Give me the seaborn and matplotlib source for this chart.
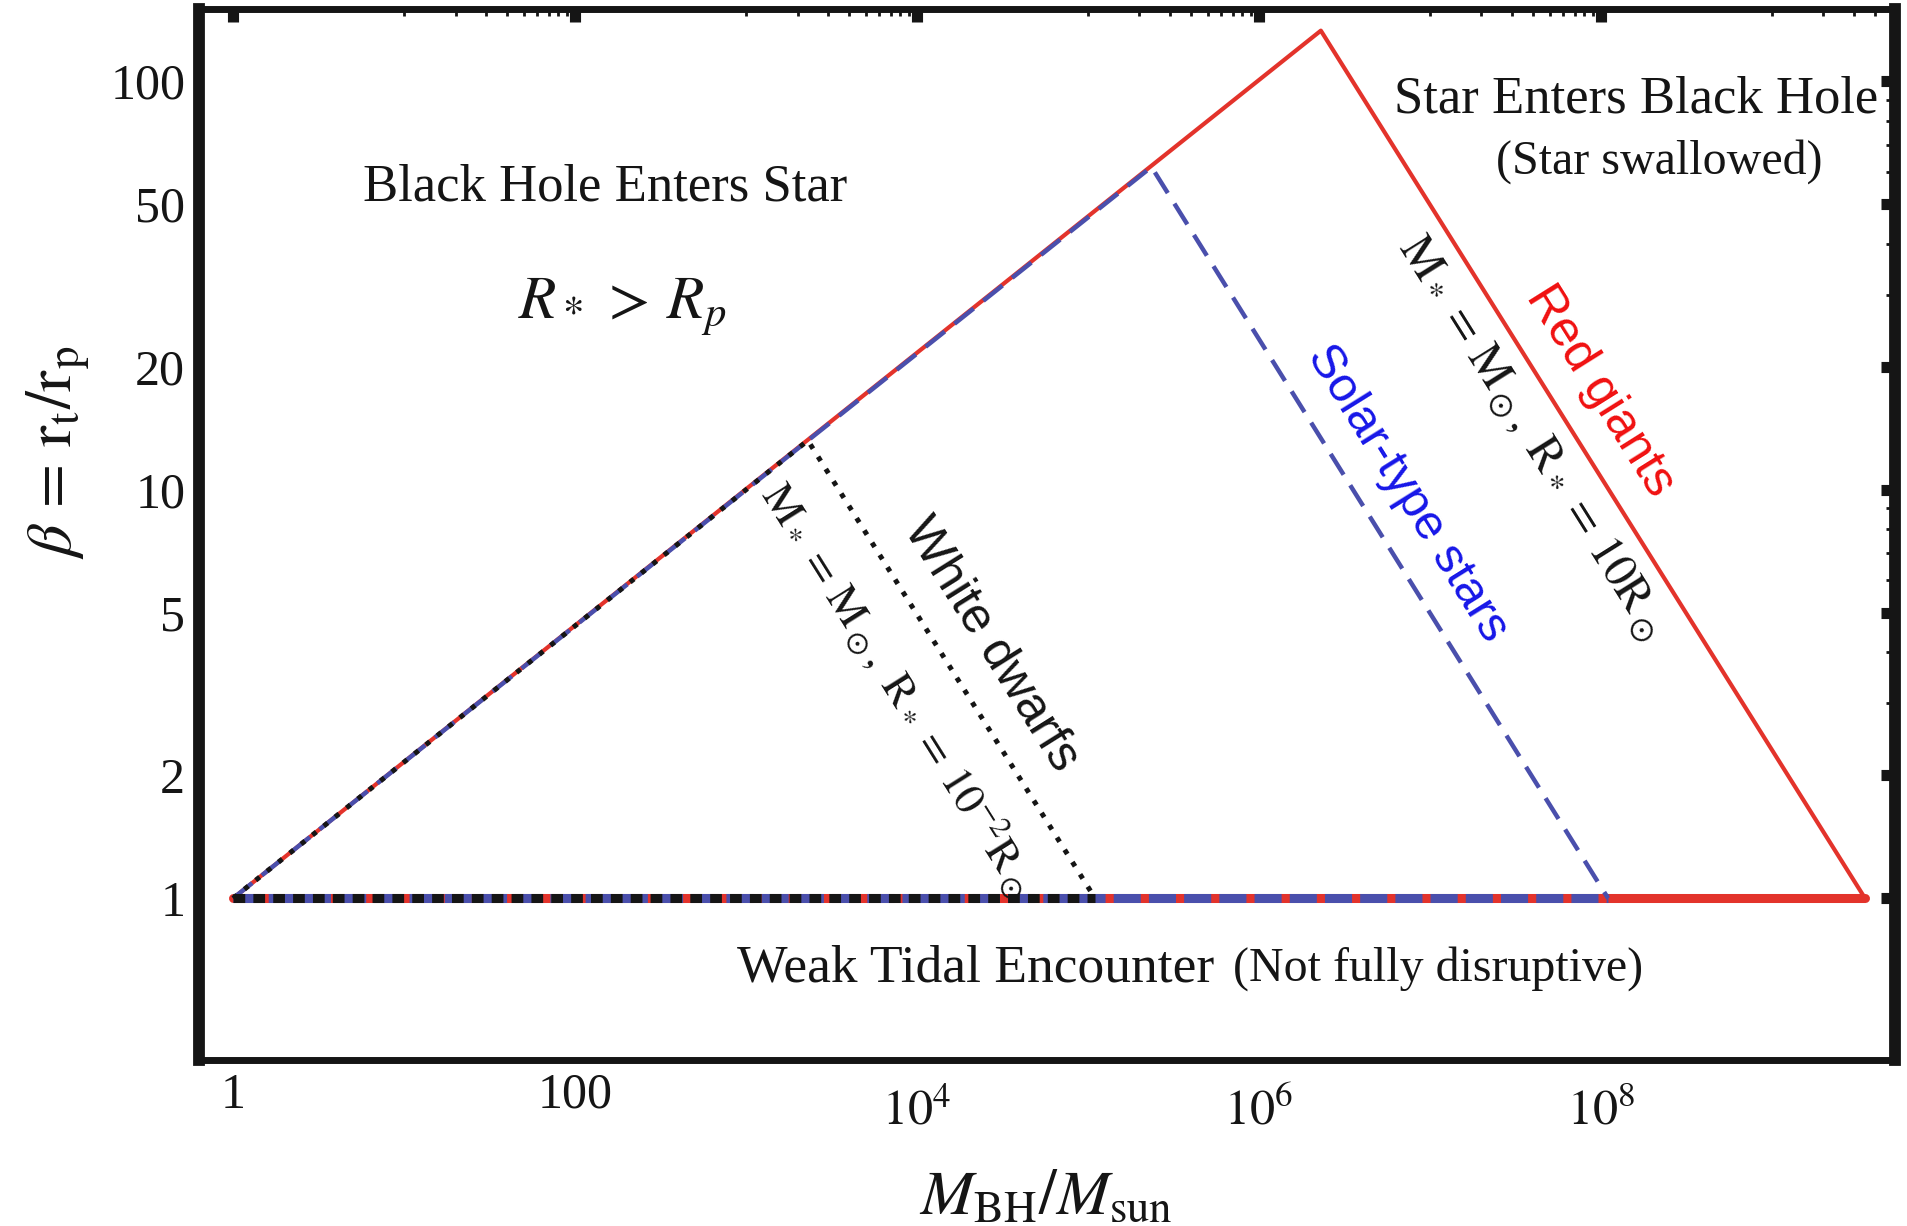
import numpy as np
import pandas as pd
import matplotlib
matplotlib.use("Agg")
import matplotlib.pyplot as plt
from matplotlib.ticker import FixedLocator, NullFormatter
import seaborn as sns

# ---------------------------------------------------------
# Data: corners of the disruption regions (M_BH / M_sun, beta)
# ---------------------------------------------------------
RG_MASS = [1.0, 2.3e6, 3.5e9]      # red giants, M = Msun, R = 10 Rsun
RG_BETA = [1.0, 133.0, 1.0]
SOLAR_MASS = [1.0, 2.35e5, 1.1e8]  # solar-type stars
SOLAR_BETA = [1.0, 61.7, 1.0]
WD_MASS = [1.0, 2.3e3, 1.1e5]      # white dwarfs, R = 1e-2 Rsun
WD_BETA = [1.0, 13.2, 1.0]

X_MAJOR = [1, 1e2, 1e4, 1e6, 1e8]
X_LABELS = ['1', '100', r'$10^{4}$', r'$10^{6}$', r'$10^{8}$']
X_MINOR = [m * 10.0 ** e for e in (1, 3, 5, 7, 9) for m in range(1, 10)]
Y_MAJOR = [1, 2, 5, 10, 20, 50, 100]
Y_LABELS = ['1', '2', '5', '10', '20', '50', '100']
Y_MINOR = [3, 4, 6, 7, 8, 9, 30, 40, 60, 70, 80, 90]

RED = '#e3332b'
BLUE = '#4a4fac'
INK = '#151515'

sns.set_theme(style="white")
plt.rcParams['font.family'] = ['Liberation Serif', 'DejaVu Serif']
plt.rcParams['mathtext.fontset'] = 'stix'

def region(mass, beta, name):
    slope = pd.DataFrame({'mass': mass, 'beta': beta, 'star': name})
    floor = pd.DataFrame({'mass': [mass[0], mass[-1]], 'beta': [beta[0], beta[-1]], 'star': name})
    return slope, floor

rg_slope, rg_floor = region(RG_MASS, RG_BETA, 'Red giants')
sol_slope, sol_floor = region(SOLAR_MASS, SOLAR_BETA, 'Solar-type stars')
wd_slope, wd_floor = region(WD_MASS, WD_BETA, 'White dwarfs')

fig = plt.figure(figsize=(19.07, 12.26), dpi=100)
ax = fig.add_axes([0.1044, 0.1358, 0.9937 - 0.1044, 0.9927 - 0.1358])
ax.set_xscale('log')
ax.set_yscale('log')

# red giants: solid
sns.lineplot(data=rg_slope, x='mass', y='beta', color=RED, lw=3, sort=False,
             estimator=None, ax=ax)
sns.lineplot(data=rg_floor, x='mass', y='beta', color=RED, lw=6.5, sort=False,
             estimator=None, ax=ax)
# solar-type: dashed
sns.lineplot(data=sol_slope, x='mass', y='beta', color=BLUE, lw=3.2, sort=False,
             estimator=None, linestyle=(0, (5.5, 2.8)), ax=ax)
sns.lineplot(data=sol_floor, x='mass', y='beta', color=BLUE, lw=6.5, sort=False,
             estimator=None, linestyle=(0, (3.0, 0.9)), ax=ax)
# white dwarfs: dotted
sns.lineplot(data=wd_slope, x='mass', y='beta', color=INK, lw=3.6, sort=False,
             estimator=None, linestyle=(0, (1.0, 1.9)), ax=ax)
sns.lineplot(data=wd_floor, x='mass', y='beta', color=INK, lw=6.5, sort=False,
             estimator=None, linestyle=(0, (1.3, 0.9)), ax=ax)

ax.set_xlim(0.633, 5.24e9)
ax.set_ylim(0.403, 150.3)
ax.grid(False)

# axes frame and ticks
for side in ['left', 'right']:
    ax.spines[side].set_linewidth(8.5)
for side in ['top', 'bottom']:
    ax.spines[side].set_linewidth(5)
for sp in ax.spines.values():
    sp.set_color(INK)
    sp.set_visible(True)

ax.xaxis.set_major_locator(FixedLocator(X_MAJOR))
ax.xaxis.set_minor_locator(FixedLocator(X_MINOR))
ax.set_xticklabels(X_LABELS)
ax.xaxis.set_minor_formatter(NullFormatter())
ax.yaxis.set_major_locator(FixedLocator(Y_MAJOR))
ax.yaxis.set_minor_locator(FixedLocator(Y_MINOR))
ax.set_yticklabels(Y_LABELS)
ax.yaxis.set_minor_formatter(NullFormatter())

ax.tick_params(which='both', direction='in', top=True, right=True, color=INK,
               labelsize=36, labelcolor=INK)
ax.tick_params(axis='x', which='major', length=9, width=8, pad=9)
ax.tick_params(axis='x', which='minor', length=4.7, width=2)
ax.tick_params(axis='y', which='major', length=10, width=8, pad=10)
ax.tick_params(axis='y', which='minor', length=6.7, width=2)
# power-of-ten labels sit lower than the plain ones
for tick, lab in zip(ax.xaxis.get_major_ticks(), X_LABELS):
    if '^' in lab:
        tick.set_pad(21)

ax.set_xlabel(r'$M_{\mathrm{BH}}/M_{\mathrm{sun}}$', fontsize=46, color=INK, va='center')
ax.set_ylabel(r'$\beta\,=\,\mathrm{r_t/r_p}$', fontsize=46, color=INK, va='center')
ax.xaxis.set_label_coords(0.4994, -0.132)
ax.yaxis.set_label_coords(-0.083, 0.578)

# region labels
ax.text(150, 51, 'Black Hole Enters Star', fontsize=38, ha='center', va='baseline', color=INK)
ax.text(188, 26.2, r'$R_*\,>\,R_p$', fontsize=44, ha='center', va='baseline', color=INK)
ax.text(1.6e8, 83.7, 'Star Enters Black Hole', fontsize=38, ha='center', va='baseline', color=INK)
ax.text(2.2e8, 59.3, '(Star swallowed)', fontsize=34.5, ha='center', va='baseline', color=INK)
ax.text(5.5e5, 0.627, 'Weak Tidal Encounter', fontsize=38.5, ha='right', va='baseline', color=INK)
ax.text(7.0e5, 0.627, '(Not fully disruptive)', fontsize=34.5, ha='left', va='baseline', color=INK)

def fall_angle(mass, beta):
    p0 = ax.transData.transform((mass[1], beta[1]))
    p1 = ax.transData.transform((mass[2], beta[2]))
    return np.degrees(np.arctan2(p1[1] - p0[1], p1[0] - p0[0]))

sans = ['Liberation Sans', 'DejaVu Sans']
rg_ang = fall_angle(RG_MASS, RG_BETA)
sol_ang = fall_angle(SOLAR_MASS, SOLAR_BETA)
wd_ang = fall_angle(WD_MASS, WD_BETA)

ax.text(9.9e7, 17.4, 'Red giants', family=sans, fontsize=36, color='#f01010',
        rotation=rg_ang, rotation_mode='anchor', ha='center', va='center')
ax.text(3.9e7, 13.4,
        r'$\mathrm{M}_*\,=\,\mathrm{M}_\odot,\ \mathrm{R}_*\,=\,10\mathrm{R}_\odot$',
        fontsize=34, color=INK, rotation=rg_ang, rotation_mode='anchor',
        ha='center', va='center')
ax.text(7.4e6, 9.8, 'Solar-type stars', family=sans, fontsize=35, color='#1616e8',
        rotation=sol_ang, rotation_mode='anchor', ha='center', va='center')
ax.text(2.7e4, 4.17, 'White dwarfs', family=sans, fontsize=36, color=INK,
        rotation=wd_ang, rotation_mode='anchor', ha='center', va='center')
ax.text(7.9e3, 3.25,
        r'$\mathrm{M}_*\,=\,\mathrm{M}_\odot,\ \mathrm{R}_*\,=\,10^{-2}\mathrm{R}_\odot$',
        fontsize=32, color=INK, rotation=wd_ang, rotation_mode='anchor',
        ha='center', va='center')

fig.savefig('out.png', dpi=100, facecolor='white')
